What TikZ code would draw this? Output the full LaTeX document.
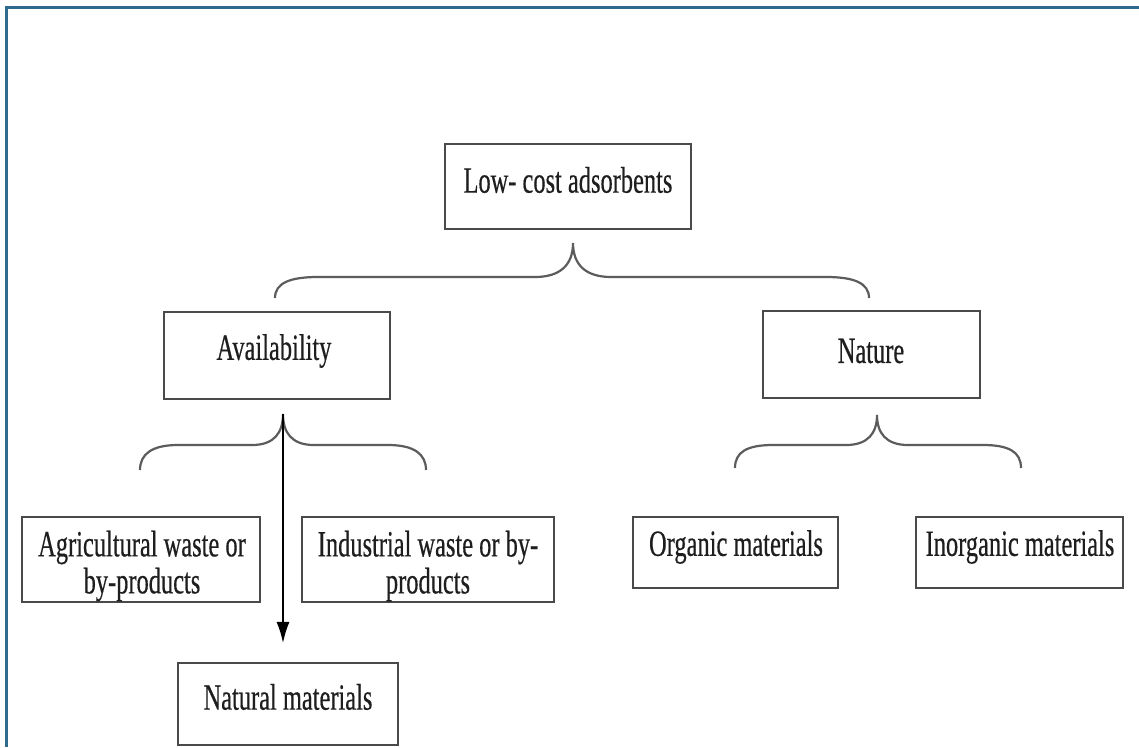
\documentclass[tikz,border=0pt]{standalone}
\usepackage{fontspec}
\setmainfont{Liberation Serif}[FakeStretch=0.66,FakeBold=0.4]
\usetikzlibrary{arrows.meta}
\definecolor{framecol}{HTML}{2E6A8C}
\definecolor{boxgray}{HTML}{4A4A4A}
\definecolor{bracegray}{HTML}{5C5C5C}
\definecolor{txtcol}{HTML}{1E1E1E}
\tikzset{
  box/.style={draw=boxgray, line width=2.2pt, rectangle, inner sep=0pt},
  lbl/.style={text=txtcol, font=\fontsize{37}{37}\selectfont, align=center, inner sep=0pt},
  bracepath/.style={draw=bracegray, line width=2.2pt},
  framepath/.style={draw=framecol, line width=3pt},
  arrowpath/.style={draw=black, line width=1.5pt, -{Latex[length=21pt,width=13pt]}},
}
\begin{document}
\begin{tikzpicture}[x=1pt,y=-1pt]
\useasboundingbox (0,0) rectangle (1139,747);
\fill[white] (0,0) rectangle (1139,747);
% frame
\coordinate (fa) at (6,747);
\coordinate (fb) at (6,7);
\coordinate (fc) at (1139,7);
\draw[framepath] (fa) -- (fb) -- (fc);

% boxes
\node[box, minimum width=246pt, minimum height=85pt] (low) at (568,186.5) {};
\node[box, minimum width=226pt, minimum height=87pt] (avail) at (277,355.5) {};
\node[box, minimum width=217pt, minimum height=87pt] (nature) at (871.5,354.5) {};
\node[box, minimum width=238pt, minimum height=85pt] (agri) at (141,559.5) {};
\node[box, minimum width=252pt, minimum height=85pt] (indus) at (428,559.5) {};
\node[box, minimum width=205pt, minimum height=71pt] (org) at (735.5,552.5) {};
\node[box, minimum width=207pt, minimum height=71pt] (inorg) at (1019.5,552.5) {};
\node[box, minimum width=220pt, minimum height=82pt] (natural) at (288,704) {};

% labels
\node[lbl] (lowt) at (568,180) {Low- cost adsorbents};
\node[lbl] (availt) at (274,351) {Availability};
\node[lbl] (naturet) at (871,351) {Nature};
\node[lbl] (agrit) at (142,566) {Agricultural waste or\\by-products};
\node[lbl] (indust) at (428,566) {Industrial waste or by-\\products};
\node[lbl] (orgt) at (736,547) {Organic materials};
\node[lbl] (inorgt) at (1020,547) {Inorganic materials};
\node[lbl] (naturalt) at (288,697) {Natural materials};

% top brace
\coordinate (tb1) at (275,298);
\coordinate (tbt) at (573,243);
\coordinate (tb2) at (869,298);
\draw[bracepath] (tb1) .. controls (275,283) and (290,277) .. (318,277) -- (535,277)
  .. controls (560,277) and (573,265) .. (tbt)
  .. controls (573,265) and (586,277) .. (611,277) -- (826,277)
  .. controls (854,277) and (869,283) .. (tb2);

% availability brace
\coordinate (ab1) at (140,470);
\coordinate (abt) at (283,414);
\coordinate (ab2) at (426,470);
\draw[bracepath] (ab1) .. controls (140,454) and (152,445) .. (178,445) -- (252,445)
  .. controls (274,445) and (283,433) .. (abt)
  .. controls (283,433) and (292,445) .. (314,445) -- (388,445)
  .. controls (414,445) and (426,454) .. (ab2);

% nature brace
\coordinate (nb1) at (735,468);
\coordinate (nbt) at (877,415);
\coordinate (nb2) at (1021,468);
\draw[bracepath] (nb1) .. controls (735,452) and (747,445) .. (773,445) -- (846,445)
  .. controls (868,445) and (877,433) .. (nbt)
  .. controls (877,433) and (886,445) .. (908,445) -- (983,445)
  .. controls (1009,445) and (1021,452) .. (nb2);

% arrow
\draw[arrowpath, shorten >=19pt] (abt) -- (abt |- natural.north);
\end{tikzpicture}
\end{document}
